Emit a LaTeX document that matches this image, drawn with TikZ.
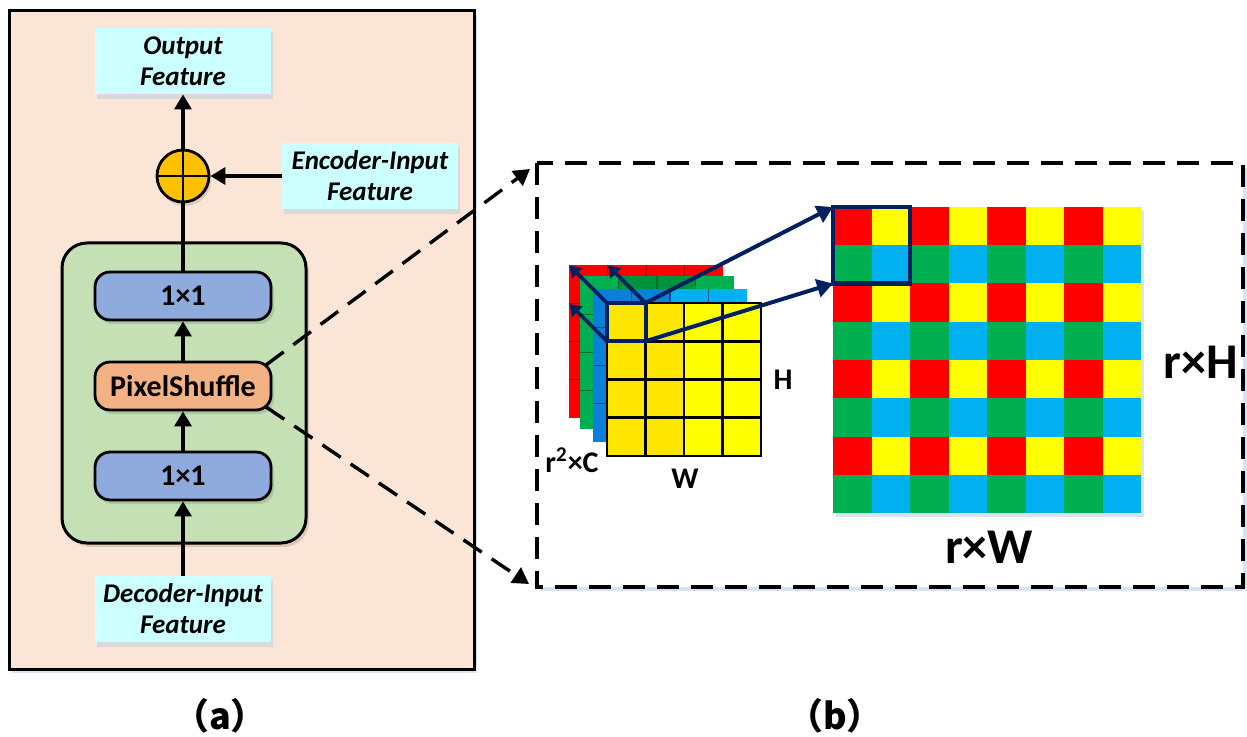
\documentclass[tikz,border=0pt]{standalone}
\usepackage{fontspec}
\setmainfont{Carlito}
\newfontfamily\cjkfont{Noto Sans CJK SC}
\usetikzlibrary{arrows.meta,calc}

\definecolor{panelpeach}{HTML}{FBE5D6}
\definecolor{featcyan}{HTML}{CCFFFF}
\definecolor{blockgreen}{HTML}{C5E0B4}
\definecolor{convblue}{HTML}{8FAADC}
\definecolor{psorange}{HTML}{F4B183}
\definecolor{sumgold}{HTML}{FFC000}
\definecolor{navy}{HTML}{002060}
\definecolor{shadowgray}{HTML}{D9D9D9}
\definecolor{shadowblue}{HTML}{DAE3F3}
\definecolor{pxred}{HTML}{FF0000}
\definecolor{pxyellow}{HTML}{FFFF00}
\definecolor{pxyellowdk}{HTML}{FFE600}
\definecolor{pxgreen}{HTML}{00B050}
\definecolor{pxgreendk}{HTML}{00933E}
\definecolor{pxblue}{HTML}{00B0F0}
\definecolor{pxbluedk}{HTML}{0B80DA}

\tikzset{
  flow/.style={line width=1.6pt,-{Triangle[length=7.5pt,width=8.5pt]}},
  plainflow/.style={line width=1.6pt},
  feat/.style={fill=featcyan, minimum width=88pt, minimum height=33pt, inner sep=0pt,
    align=center, font=\fontsize{13.5}{15.5}\selectfont\bfseries\itshape,
    preaction={draw=none, fill=shadowgray, transform canvas={shift={(1pt,-2.5pt)}}}},
  opbox/.style={draw, line width=1.4pt, rounded corners=7.5pt, minimum width=88pt,
    minimum height=24pt, inner sep=0pt, font=\fontsize{15}{17}\selectfont\bfseries,
    preaction={draw=none, fill=black, opacity=0.12, transform canvas={shift={(1.5pt,-2pt)}}}},
  zoomline/.style={line width=1.7pt, dash pattern=on 11pt off 6pt,
    -{Triangle[length=8pt,width=9pt]}},
  navyarrow/.style={navy, line width=2pt, -{Triangle[length=8pt,width=9pt]}},
  backarrow/.style={navy, line width=1.8pt, -{Triangle[length=5.5pt,width=7pt]}},
  dimlabel/.style={font=\fontsize{15}{17}\selectfont\bfseries, inner sep=0pt},
  biglabel/.style={font=\fontsize{25}{28}\selectfont\bfseries, inner sep=0pt},
  sublabel/.style={font=\cjkfont\bfseries\fontsize{18}{20}\selectfont, inner sep=0pt},
}

\begin{document}
\begin{tikzpicture}[x=0.5pt,y=-0.5pt]
\useasboundingbox (0,0) rectangle (1247,737);
\fill[white] (0,0) rectangle (1247,737);

% ---------- panel (a): upsampling block ----------
\fill[shadowblue] (12,15) rectangle (477,673);
\draw[fill=panelpeach, line width=1.5pt] (9,11) rectangle (474,669);

\fill[black, opacity=0.12, rounded corners=12.5pt] (65,247) rectangle (309,547);
\draw[fill=blockgreen, line width=1.5pt, rounded corners=12.5pt] (62,243) rectangle (306,543);

% zoom guides towards panel (b)
\draw[zoomline] (266,365) -- (530,169);
\draw[zoomline] (266,407) -- (529,584);

\node[feat] (out) at (183,61) {Output\\Feature};
\node[feat] (enc) at (370,176) {Encoder-Input\\Feature};
\node[feat] (dec) at (183,609) {Decoder-Input\\Feature};

\node[opbox, fill=convblue] (conv2) at (183,296) {1×1};
\node[opbox, fill=psorange] (ps) at (183,386) {PixelShuffle};
\node[opbox, fill=convblue] (conv1) at (183,476) {1×1};

\fill[black, opacity=0.12] (185,180) circle[radius=13pt];
\node[circle, draw, line width=1.4pt, fill=sumgold, minimum size=26pt, inner sep=0pt] (sum) at (183,176) {};
\draw[line width=1.4pt] (sum.north) -- (sum.south) (sum.west) -- (sum.east);

\draw[flow] (dec.north) -- (conv1.south);
\draw[flow] (conv1.north) -- (ps.south);
\draw[flow] (ps.north) -- (conv2.south);
\draw[plainflow] (conv2.north) -- (sum.south);
\draw[flow] (sum.north) -- (out.south);
\draw[flow] (enc.west) -- (sum.east);

\node[sublabel] (laba) at (220,716) {（a）};

% ---------- panel (b): pixel shuffle ----------
\fill[shadowblue] (540,167) rectangle (1247,591);
\draw[line width=1.7pt, dash pattern=on 11pt off 6pt, fill=white] (537,163) rectangle (1243,587);

% input tensor: r^2 x C channel stack of H x W maps
\fill[pxred] (569,265) rectangle ++(154,153);
\foreach \i in {1,2,3} {
  \draw[pxred!65!black, line width=0.6pt] ({569+38.5*\i},265) -- ++(0,153);
  \draw[pxred!65!black, line width=0.6pt] (569,{265+38.25*\i}) -- ++(154,0);
}
\fill[pxgreen] (580,276) rectangle ++(154,153);
\fill[pxgreendk] (618.5,276) rectangle ++(77,153);
\foreach \i in {1,2,3} {
  \draw[pxgreen!60!black, line width=0.6pt] ({580+38.5*\i},276) -- ++(0,153);
  \draw[pxgreen!60!black, line width=0.6pt] (580,{276+38.25*\i}) -- ++(154,0);
}
\fill[pxblue] (593,289) rectangle ++(154,153);
\fill[pxbluedk] (593,289) rectangle ++(77,153);
\foreach \i in {1,2,3} {
  \draw[pxbluedk!60!black, line width=0.6pt] ({593+38.5*\i},289) -- ++(0,153);
  \draw[pxbluedk!60!black, line width=0.6pt] (593,{289+38.25*\i}) -- ++(154,0);
}
\fill[pxyellow] (607,303) rectangle ++(154,153);
\fill[pxyellowdk] (607,303) rectangle ++(77,153);
\foreach \i in {1,2,3} {
  \draw[line width=1.3pt] ({607+38.5*\i},303) -- ++(0,153);
  \draw[line width=1.3pt] (607,{303+38.25*\i}) -- ++(154,0);
}
\draw[line width=1.3pt] (607,303) rectangle ++(154,153);

% one spatial position traced through all channels
\coordinate (cellTL) at (607,303);
\coordinate (cellTR) at (645.5,303);
\coordinate (cellBL) at (607,341.25);
\coordinate (cellBR) at (645.5,341.25);
\coordinate (backTL) at (569.5,265.5);
\coordinate (backTR) at (608,265.5);
\coordinate (backBL) at (569.5,304);
\draw[backarrow] (cellTL) -- (backTL);
\draw[backarrow] (cellTR) -- (backTR);
\draw[backarrow] (cellBL) -- (backBL);
\draw[navy, line width=2pt] (cellTL) rectangle (cellBR);

% output: rH x rW map
\fill[shadowblue] (836,211) rectangle (1144,517);
\foreach \r/\ca/\cb in {0/pxred/pxyellow,1/pxgreen/pxblue,2/pxred/pxyellow,3/pxgreen/pxblue,
                        4/pxred/pxyellow,5/pxgreen/pxblue,6/pxred/pxyellow,7/pxgreen/pxblue} {
  \foreach \c in {0,2,4,6} {
    \fill[\ca] ({833+38.5*\c},{207+38.25*\r}) rectangle ++(38.6,38.35);
    \fill[\cb] ({833+38.5*(\c+1)},{207+38.25*\r}) rectangle ++(38.6,38.35);
  }
}
\coordinate (blockTL) at (833,207);
\coordinate (blockBL) at (833,283.5);
\draw[navy, line width=2.3pt] (blockTL) rectangle (910,283.5);

\draw[navyarrow] (cellTR) -- (blockTL);
\draw[navyarrow] (cellBR) -- (blockBL);

\node[dimlabel] (labH) at (783,380) {H};
\node[dimlabel] (labW) at (685,479) {W};
\node[dimlabel] (labC) at (572,460) {r\textsuperscript{2}×C};
\node[biglabel] (labrH) at (1201,362) {r×H};
\node[biglabel] (labrW) at (989,547) {r×W};

\node[sublabel] (labb) at (835,716) {（b）};
\end{tikzpicture}
\end{document}
